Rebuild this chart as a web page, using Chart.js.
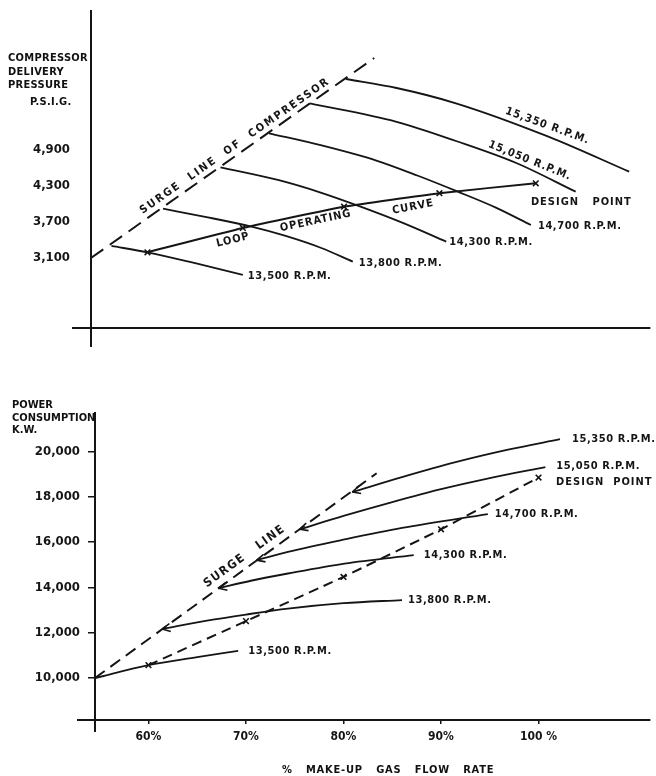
<!DOCTYPE html>
<html>
<head>
<meta charset="utf-8">
<script src="https://cdn.jsdelivr.net/npm/chart.js@4.4.1/dist/chart.umd.min.js"></script>
<style>
html,body{margin:0;padding:0;background:#fff;}
body{width:656px;height:776px;position:relative;overflow:hidden;
 font-family:"DejaVu Sans Condensed","DejaVu Sans",sans-serif;font-weight:bold;color:#111;}
canvas{position:absolute;left:0;}
#c1{top:0;}
#c2{top:350px;}
.t{position:absolute;font-size:11px;line-height:13.5px;white-space:nowrap;letter-spacing:0.3px;}
</style>
</head>
<body>
<canvas id="c1" width="656" height="350"></canvas>
<canvas id="c2" width="656" height="426"></canvas>
<div class="t" style="left:8px;top:51px;">COMPRESSOR<br>DELIVERY<br>PRESSURE</div>
<div class="t" style="left:30px;top:95px;">P.S.I.G.</div>
<div class="t" style="left:12px;top:399px;line-height:12.5px;letter-spacing:0;">POWER<br>CONSUMPTION<br>K.W.</div>
<div class="t" style="left:282px;top:763px;word-spacing:9px;letter-spacing:0.8px;">% MAKE-UP GAS FLOW RATE</div>
<script>
// ---------- DATA ----------
const flowTicks = [60, 70, 80, 90, 100];
const flowTickLabels = ['60%', '70%', '80%', '90%', '100 %'];
const pressureTicks = [3100, 3700, 4300, 4900];
const pressureTickLabels = ['3,100', '3,700', '4,300', '4,900'];
const powerTicks = [10000, 12000, 14000, 16000, 18000, 20000];
const powerTickLabels = ['10,000', '12,000', '14,000', '16,000', '18,000', '20,000'];
const speedNames = ['13,500 R.P.M.', '13,800 R.P.M.', '14,300 R.P.M.', '14,700 R.P.M.', '15,050 R.P.M.', '15,350 R.P.M.'];

// Top chart: compressor delivery pressure (psig) vs % make-up gas flow
const presSurgeFlow = [54.4, 83.5];
const presSurge = [3100, 6433];
const presOpFlow = [60.2, 70, 80.4, 90.2, 100.1];
const presOp = [3195, 3600, 3955, 4180, 4345];
const pres13500Flow = [56.5, 60.2, 65, 70.0];
const pres13500 = [3300, 3195, 3017, 2817];
const pres13800Flow = [61.8, 66, 70.9, 74.4, 78, 81.3];
const pres13800 = [3922, 3790, 3622, 3467, 3270, 3038];
const pres14300Flow = [67.7, 73.6, 78, 82.1, 86.5, 90.9];
const pres14300 = [4612, 4400, 4190, 3955, 3680, 3372];
const pres14700Flow = [72.7, 78, 83.8, 88, 92.1, 96, 99.6];
const pres14700 = [5178, 4980, 4720, 4470, 4205, 3940, 3650];
const pres15050Flow = [76.9, 85.8, 91.9, 98.1, 104.2];
const pres15050 = [5678, 5370, 5050, 4683, 4205];
const pres15350Flow = [80.6, 85.8, 91.9, 101.4, 109.7];
const pres15350 = [6083, 5933, 5678, 5122, 4538];

// Bottom chart: power consumption (kW) vs % make-up gas flow
const powSurgeFlow = [54.52, 83.4];
const powSurge = [10000, 19030];
const powOpFlow = [60, 70, 80, 90, 100];
const powOp = [10570, 12510, 14460, 16560, 18840];
const pow13500Flow = [54.52, 60, 65, 69.2];
const pow13500 = [10000, 10570, 10920, 11200];
const pow13800Flow = [61.4, 66, 70, 74.3, 80, 86];
const pow13800 = [12160, 12530, 12800, 13060, 13300, 13440];
const pow14300Flow = [67.2, 70.5, 74.3, 80.1, 87.2];
const pow14300 = [13960, 14290, 14610, 15050, 15420];
const pow14700Flow = [71.1, 74.3, 80, 86, 94.8];
const pow14700 = [15200, 15560, 16100, 16620, 17230];
const pow15050Flow = [75.5, 80, 85, 90, 95, 100.7];
const pow15050 = [16560, 17150, 17760, 18330, 18820, 19300];
const pow15350Flow = [80.9, 86, 91.6, 97, 102.2];
const pow15350 = [18200, 18860, 19530, 20080, 20530];

// ---------- STYLE / HELPERS ----------
const INK = '#151515';
const FONT = '"DejaVu Sans Condensed","DejaVu Sans",sans-serif';
Chart.defaults.font.family = FONT;
Chart.defaults.font.weight = 'bold';
Chart.defaults.font.size = 11;
Chart.defaults.color = INK;

const pts = (xs, ys) => xs.map((x, i) => ({x: x, y: ys[i]}));

function speedLine(xs, ys, name, extra) {
  return Object.assign({
    data: pts(xs, ys), showLine: true, borderColor: INK, borderWidth: 1.8,
    pointRadius: 0, cubicInterpolationMode: 'monotone', fill: false, endLabel: name
  }, extra || {});
}

const decor = {
  id: 'decor',
  afterDatasetsDraw(chart, args, opts) {
    const ctx = chart.ctx, a = chart.chartArea;
    const xs = chart.scales.x, ys = chart.scales.y;
    ctx.save();
    ctx.strokeStyle = INK; ctx.lineWidth = 2; ctx.setLineDash([]);
    ctx.beginPath();
    ctx.moveTo(a.left, a.top); ctx.lineTo(a.left, a.bottom + opts.extY);
    ctx.moveTo(a.left - opts.extX, a.bottom); ctx.lineTo(a.right, a.bottom);
    ctx.stroke();
    ctx.fillStyle = INK;
    chart.data.datasets.forEach((ds, i) => {
      const meta = chart.getDatasetMeta(i);
      const n = meta.data.length;
      if (ds.arrowStart && n > 1) {
        const p0 = meta.data[0], p1 = meta.data[1];
        const ang = Math.atan2(p1.y - p0.y, p1.x - p0.x);
        ctx.lineWidth = 1.6;
        ctx.beginPath();
        [0.45, -0.45].forEach(d => {
          ctx.moveTo(p0.x, p0.y);
          ctx.lineTo(p0.x + 9 * Math.cos(ang + d), p0.y + 9 * Math.sin(ang + d));
        });
        ctx.stroke();
      }
      if (ds.endLabel && opts.endOffsets) {
        const off = opts.endOffsets[ds.endLabel];
        if (off) {
          const p = meta.data[n - 1];
          ctx.font = 'bold 11px ' + FONT;
          ctx.letterSpacing = '0.6px';
          ctx.textAlign = 'left'; ctx.textBaseline = 'middle';
          ctx.fillText(ds.endLabel, p.x + off[0], p.y + off[1]);
        }
      }
    });
    (opts.labels || []).forEach(l => {
      const px = xs.getPixelForValue(l.x), py = ys.getPixelForValue(l.y);
      ctx.save();
      ctx.translate(px, py);
      ctx.rotate((l.rot || 0) * Math.PI / 180);
      ctx.font = 'bold ' + (l.size || 11) + 'px ' + FONT;
      ctx.letterSpacing = (l.ls || 0.6) + 'px';
      ctx.textAlign = l.align || 'center'; ctx.textBaseline = 'middle';
      ctx.fillText(l.text, 0, 0);
      ctx.restore();
    });
    ctx.restore();
  }
};

function fixTicks(values) {
  return function (scale) { scale.ticks = values.map(v => ({value: v})); };
}
function fitY(w) {
  return function (s) { s.width = w; s.paddingTop = 0; s.paddingBottom = 0; };
}
function fitX(h) {
  return function (s) { s.height = h; s.paddingLeft = 0; s.paddingRight = 0; };
}

// ---------- TOP CHART ----------
new Chart(document.getElementById('c1'), {
  type: 'scatter',
  data: {
    datasets: [
      {data: pts(presSurgeFlow, presSurge), showLine: true, borderColor: INK, borderWidth: 2,
       borderDash: [15, 8], pointRadius: 0},
      speedLine(pres13500Flow, pres13500, speedNames[0]),
      speedLine(pres13800Flow, pres13800, speedNames[1]),
      speedLine(pres14300Flow, pres14300, speedNames[2]),
      speedLine(pres14700Flow, pres14700, speedNames[3]),
      speedLine(pres15050Flow, pres15050, speedNames[4]),
      speedLine(pres15350Flow, pres15350, speedNames[5]),
      {data: pts(presOpFlow, presOp), showLine: true, borderColor: INK, borderWidth: 2,
       tension: 0.15, pointStyle: 'crossRot', pointRadius: 4, pointBorderWidth: 1.6,
       pointBorderColor: INK}
    ]
  },
  options: {
    responsive: false, animation: false, events: [],
    layout: {padding: {top: 10, left: 0, right: 0, bottom: 0}},
    plugins: {
      legend: {display: false}, tooltip: {enabled: false},
      decor: {
        extX: 19, extY: 19,
        endOffsets: {'13,500 R.P.M.': [5, 1], '13,800 R.P.M.': [6, 1],
                     '14,300 R.P.M.': [3, 0], '14,700 R.P.M.': [7, 1]},
        labels: [
          {text: 'SURGE  LINE  OF  COMPRESSOR', x: 69.2, y: 4967, rot: -35, ls: 2},
          {text: 'LOOP', x: 69.0, y: 3400, rot: -14, ls: 1},
          {text: 'OPERATING', x: 77.5, y: 3717, rot: -12, ls: 1},
          {text: 'CURVE', x: 87.5, y: 3950, rot: -11, ls: 1},
          {text: 'DESIGN   POINT', x: 99.6, y: 4033, align: 'left', ls: 1},
          {text: '15,050 R.P.M.', x: 99.5, y: 4720, rot: 22, ls: 1},
          {text: '15,350 R.P.M.', x: 101.3, y: 5300, rot: 20, ls: 1}
        ]
      }
    },
    scales: {
      x: {type: 'linear', min: 54.4, max: 111.88,
          grid: {display: false, drawTicks: false}, border: {display: false},
          ticks: {display: false},
          afterFit: fitX(22)},
      y: {type: 'linear', min: 1933, max: 7233,
          grid: {display: false, drawTicks: false}, border: {display: false},
          afterBuildTicks: fixTicks(pressureTicks),
          ticks: {padding: 21, autoSkip: false, font: {size: 13},
                  callback: v => pressureTickLabels[pressureTicks.indexOf(v)]},
          afterFit: fitY(91)}
    }
  },
  plugins: [decor]
});

// ---------- BOTTOM CHART ----------
new Chart(document.getElementById('c2'), {
  type: 'scatter',
  data: {
    datasets: [
      {data: pts(powSurgeFlow, powSurge), showLine: true, borderColor: INK, borderWidth: 2,
       borderDash: [12, 7], pointRadius: 0},
      speedLine(pow13500Flow, pow13500, speedNames[0]),
      speedLine(pow13800Flow, pow13800, speedNames[1], {arrowStart: true}),
      speedLine(pow14300Flow, pow14300, speedNames[2], {arrowStart: true}),
      speedLine(pow14700Flow, pow14700, speedNames[3], {arrowStart: true}),
      speedLine(pow15050Flow, pow15050, speedNames[4], {arrowStart: true}),
      speedLine(pow15350Flow, pow15350, speedNames[5], {arrowStart: true}),
      {data: pts(powOpFlow, powOp), showLine: true, borderColor: INK, borderWidth: 2,
       borderDash: [10, 6], tension: 0.1, pointStyle: 'crossRot', pointRadius: 4,
       pointBorderWidth: 1.6, pointBorderColor: INK}
    ]
  },
  options: {
    responsive: false, animation: false, events: [],
    layout: {padding: {top: 62, left: 0, right: 0, bottom: 0}},
    plugins: {
      legend: {display: false}, tooltip: {enabled: false},
      decor: {
        extX: 18, extY: 12,
        endOffsets: {'13,500 R.P.M.': [10, 0], '13,800 R.P.M.': [6, 0],
                     '14,300 R.P.M.': [10, 0], '14,700 R.P.M.': [7, 0],
                     '15,050 R.P.M.': [11, -1], '15,350 R.P.M.': [12, 0]},
        labels: [
          {text: 'SURGE   LINE', x: 69.86, y: 15374, rot: -36, size: 12, ls: 1.5},
          {text: 'DESIGN  POINT', x: 101.8, y: 18648, align: 'left', ls: 1}
        ]
      }
    },
    scales: {
      x: {type: 'linear', min: 54.52, max: 111.47,
          grid: {display: true, drawOnChartArea: false, drawTicks: true, tickLength: 4,
                 color: INK, lineWidth: 1.5},
          border: {display: false},
          afterBuildTicks: fixTicks(flowTicks),
          ticks: {padding: 6, autoSkip: false, maxRotation: 0, font: {size: 12},
                  callback: v => flowTickLabels[flowTicks.indexOf(v)]},
          afterFit: fitX(56)},
      y: {type: 'linear', min: 8150, max: 21731,
          grid: {display: true, drawOnChartArea: false, drawTicks: true, tickLength: 7,
                 color: INK, lineWidth: 1.5},
          border: {display: false},
          afterBuildTicks: fixTicks(powerTicks),
          ticks: {padding: 8, autoSkip: false, font: {size: 13},
                  callback: v => powerTickLabels[powerTicks.indexOf(v)]},
          afterFit: fitY(95)}
    }
  },
  plugins: [decor]
});
</script>
</body>
</html>
